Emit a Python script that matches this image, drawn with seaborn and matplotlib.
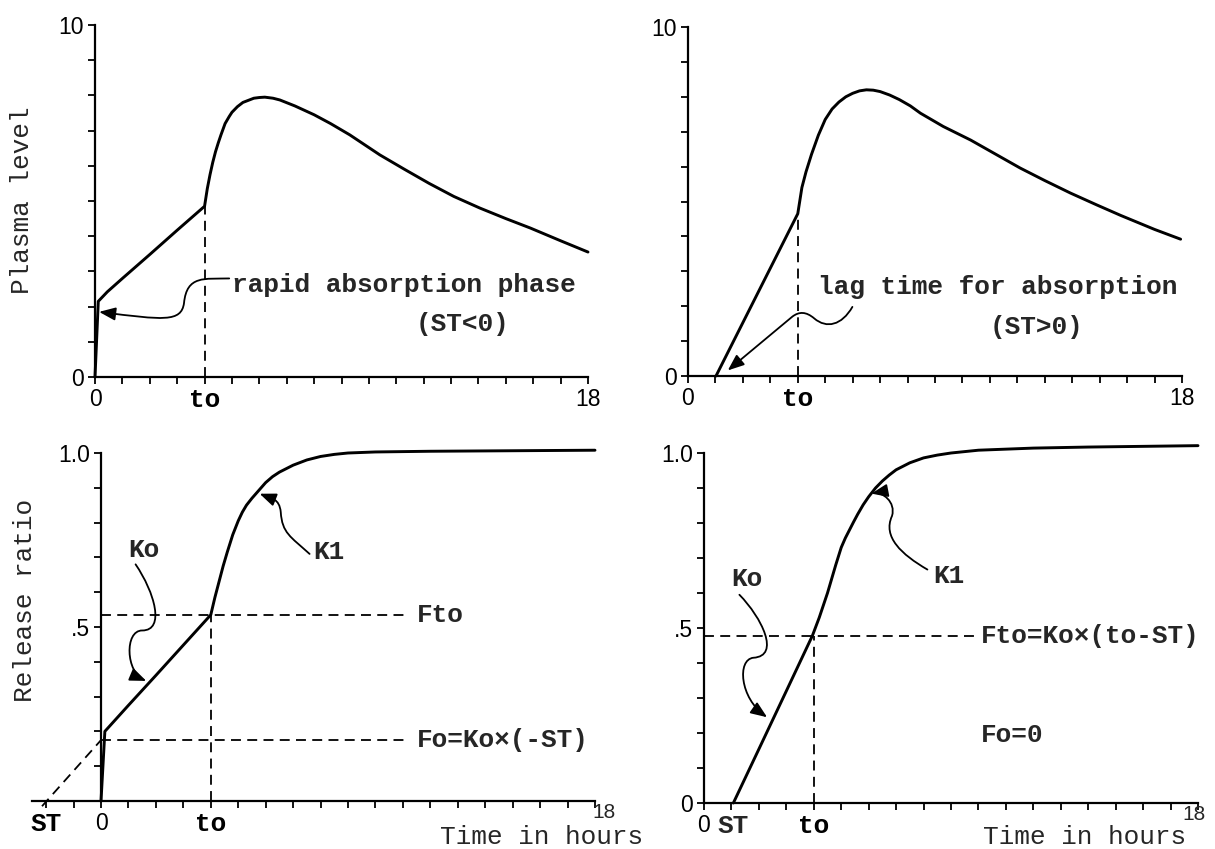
import matplotlib
matplotlib.use("Agg")
import matplotlib.pyplot as plt
import seaborn as sns
import pandas as pd
from matplotlib.path import Path
from matplotlib.patches import FancyArrowPatch
import matplotlib.transforms as mtransforms

# ---------------- data ----------------
# Panel 1: plasma level, rapid absorption phase (ST < 0)
p1_time = [0.0, 0.12, 0.45, 1.0, 2.0, 3.0, 4.0, 4.1, 4.2, 4.3, 4.4, 4.5, 4.6, 4.75, 4.9,
           5.0, 5.2, 5.4, 5.8, 6.0, 6.2, 6.5, 6.75, 7.3, 8.0, 8.6, 9.3, 10.4, 11.3, 12.2,
           13.1, 14.05, 15.0, 15.9, 17.0, 18.0]
p1_level = [0.0, 2.15, 2.42, 2.8, 3.48, 4.17, 4.85, 5.35, 5.75, 6.1, 6.4, 6.65, 6.88, 7.2, 7.4,
            7.52, 7.68, 7.8, 7.92, 7.94, 7.95, 7.92, 7.87, 7.7, 7.45, 7.2, 6.88, 6.31, 5.9, 5.5,
            5.13, 4.8, 4.5, 4.23, 3.87, 3.55]

# Panel 2: plasma level, lag time for absorption (ST > 0)
p2_time = [1.02, 2.0, 3.0, 4.0, 4.15, 4.3, 4.5, 4.75, 5.0, 5.25, 5.5, 5.75, 6.0, 6.25, 6.5,
           6.75, 7.0, 7.35, 7.7, 8.1, 8.47, 9.3, 10.3, 11.2, 12.1, 13.0, 13.94, 14.9, 15.77,
           17.0, 17.95]
p2_level = [0.0, 1.53, 3.09, 4.65, 5.4, 5.85, 6.35, 6.9, 7.35, 7.65, 7.85, 8.0, 8.1, 8.17, 8.2,
            8.19, 8.15, 8.05, 7.92, 7.74, 7.53, 7.15, 6.76, 6.36, 5.96, 5.6, 5.24, 4.9, 4.6,
            4.2, 3.92]

# Panel 3: release ratio (ST < 0)
p3_time = [0.0, 0.14, 1.0, 2.0, 3.0, 4.0, 4.15, 4.3, 4.45, 4.6, 4.8, 5.0, 5.15, 5.3, 5.5,
           5.7, 6.0, 6.25, 6.5, 7.0, 7.5, 8.0, 8.5, 9.0, 10.0, 12.0, 14.0, 16.0, 18.0]
p3_ratio = [0.0, 0.20, 0.275, 0.361, 0.448, 0.535, 0.585, 0.63, 0.675, 0.715, 0.765, 0.805,
            0.83, 0.85, 0.87, 0.888, 0.915, 0.932, 0.945, 0.965, 0.98, 0.99, 0.996, 1.0,
            1.003, 1.005, 1.006, 1.007, 1.008]

# Panel 4: release ratio (ST > 0)
p4_time = [1.07, 2.0, 3.0, 3.95, 4.2, 4.35, 4.5, 4.65, 4.8, 5.0, 5.15, 5.3, 5.45, 5.6, 5.8,
           6.0, 6.25, 6.5, 6.75, 7.0, 7.5, 8.0, 8.5, 9.0, 10.0, 12.0, 14.0, 16.0, 18.0]
p4_ratio = [0.0, 0.154, 0.320, 0.478, 0.53, 0.565, 0.60, 0.64, 0.68, 0.73, 0.757, 0.78, 0.803,
            0.825, 0.852, 0.875, 0.90, 0.92, 0.937, 0.952, 0.972, 0.986, 0.994, 1.0, 1.008,
            1.014, 1.017, 1.019, 1.021]

# reference values
TO = 4.0
P3_ST = -2.0
P3_FTO = 0.535
P3_FO = 0.175
P4_ST = 1.07
P4_FTO = 0.478

# text labels
ylab_top = "Plasma level"
ylab_bottom = "Release ratio"
xlab = "Time in hours"
note_p1 = ["rapid absorption phase", "(ST<0)"]
note_p2 = ["lag time for absorption", "(ST>0)"]

# ---------------- style ----------------
sns.set_theme(style="ticks")
MONO = ['Liberation Mono', 'DejaVu Sans Mono']
NARROW = ['Liberation Sans Narrow', 'Liberation Sans', 'DejaVu Sans']
plt.rcParams['font.family'] = MONO
TXT = 18.8
TICKFS = 16.5
ANN_W = 'bold'

fig = plt.figure(figsize=(12.15, 8.49), dpi=100)
fig.patch.set_facecolor('white')

ax1 = fig.add_axes([95/1215, 1-377/849, 493/1215, 352/849])
ax2 = fig.add_axes([688/1215, 1-376/849, 494/1215, 349/849])
ax3 = fig.add_axes([32.4/1215, 1-801/849, 562.6/1215, 348/849])
ax4 = fig.add_axes([704/1215, 1-803/849, 494/1215, 350/849])


def style_axes(ax, xmin, xmax, ymax, xticks, xlabels, yticks, ylabels):
    ax.set_xlim(xmin, xmax)
    ax.set_ylim(0, ymax)
    ax.set_facecolor('white')
    for s in ['top', 'right']:
        ax.spines[s].set_visible(False)
    ax.spines['left'].set_position(('data', 0))
    for s in ['left', 'bottom']:
        ax.spines[s].set_linewidth(1.6)
        ax.spines[s].set_color('black')
    ax.set_xticks(xticks)
    ax.set_xticklabels(xlabels)
    ax.set_yticks(yticks)
    ax.set_yticklabels(ylabels)
    ax.tick_params(direction='out', length=5, width=1.3, color='black',
                   labelcolor='black', pad=3, labelsize=TICKFS)
    for lab in ax.get_xticklabels() + ax.get_yticklabels():
        t = lab.get_text()
        if t and (t[0].isalpha()):
            lab.set_fontfamily(MONO)
            lab.set_fontsize(TXT)
            lab.set_fontweight('bold')
        else:
            lab.set_fontfamily(NARROW)


def curve(ax, xs, ys):
    df = pd.DataFrame({'t': xs, 'v': ys})
    sns.lineplot(data=df, x='t', y='v', ax=ax, color='black', lw=2.1,
                 sort=False, estimator=None)
    ax.lines[-1].set_clip_on(False)
    ax.lines[-1].set_solid_joinstyle('round')
    ax.set_xlabel('')
    ax.set_ylabel('')


def dashed(ax, xs, ys):
    ax.plot(xs, ys, color='black', lw=1.3, ls=(0, (5.5, 3.5)), clip_on=False)


def wiggle(ax, verts, codes):
    arr = FancyArrowPatch(path=Path(verts, codes), arrowstyle='-|>,head_length=0.55,head_width=0.22',
                          mutation_scale=18, lw=1.3, color='black', fc='black',
                          transform=ax.transData, clip_on=False)
    ax.add_patch(arr)


def note(ax, x, y, s):
    ax.text(x, y, s, fontsize=TXT, va='center', ha='left', fontweight=ANN_W)


C4 = Path.CURVE4

# ---- Panel 1 ----
xt = list(range(0, 19))
xl1 = ['' for _ in xt]
xl1[0], xl1[4], xl1[18] = '0', 'to', '18'
yt1 = list(range(0, 11))
yl1 = ['' for _ in yt1]
yl1[0], yl1[10] = '0', '10'
style_axes(ax1, 0, 18, 10, xt, xl1, yt1, yl1)
curve(ax1, p1_time, p1_level)
dashed(ax1, [TO, TO], [0, p1_level[p1_time.index(TO)]])
note(ax1, 5.0, 2.6, note_p1[0])
note(ax1, 11.7, 1.5, note_p1[1])
wiggle(ax1, [(4.9, 2.8), (4.0, 2.78), (3.35, 2.9), (3.25, 2.1),
             (3.15, 1.55), (2.5, 1.62), (0.15, 1.85)],
       [Path.MOVETO, C4, C4, C4, C4, C4, C4])

# ---- Panel 2 ----
style_axes(ax2, 0, 18, 10, xt, xl1, yt1, yl1)
curve(ax2, p2_time, p2_level)
dashed(ax2, [TO, TO], [0, p2_level[p2_time.index(TO)]])
note(ax2, 4.75, 2.55, note_p2[0])
note(ax2, 11.0, 1.4, note_p2[1])
wiggle(ax2, [(5.99, 1.98), (5.6, 1.45), (5.05, 1.35), (4.6, 1.65),
             (4.3, 1.85), (4.05, 1.85), (3.8, 1.7), (1.45, 0.16)],
       [Path.MOVETO, C4, C4, C4, C4, C4, C4, Path.LINETO])

# ---- Panel 3 ----
xt3 = list(range(-2, 19))
xl3 = ['' for _ in xt3]
xl3[0], xl3[2], xl3[6] = 'ST', '0', 'to'
yt = [i / 10 for i in range(0, 11)]
yl3 = ['' for _ in yt]
yl3[5], yl3[10] = '.5', '1.0'
style_axes(ax3, -2.5, 18, 1.0, xt3, xl3, yt, yl3)
curve(ax3, p3_time, p3_ratio)
dashed(ax3, [0, 11.1], [P3_FTO, P3_FTO])
dashed(ax3, [0, 11.1], [P3_FO, P3_FO])
dashed(ax3, [TO, TO], [0, P3_FTO])
dashed(ax3, [P3_ST - 0.15, 0], [-0.015, P3_FO])
note(ax3, 11.5, P3_FTO, "Fto")
note(ax3, 11.5, P3_FO, "Fo=Ko×(-ST)")
ax3.text(1.55, 0.72, "Ko", fontsize=TXT, va='center', ha='center', fontweight=ANN_W)
note(ax3, 7.75, 0.715, "K1")
wiggle(ax3, [(1.26, 0.68), (1.95, 0.6), (2.35, 0.49), (1.5, 0.49),
             (0.85, 0.49), (0.9, 0.37), (1.65, 0.345)],
       [Path.MOVETO, C4, C4, C4, C4, C4, C4])
wiggle(ax3, [(7.6, 0.71), (6.9, 0.76), (6.6, 0.77), (6.55, 0.83),
             (6.5, 0.87), (6.2, 0.87), (5.78, 0.883)],
       [Path.MOVETO, C4, C4, C4, C4, C4, C4])
tr3 = mtransforms.blended_transform_factory(ax3.transData, ax3.transAxes)
ax3.text(17.9, -0.006, '18', transform=tr3, fontsize=15, family=NARROW,
         ha='left', va='top')
fig.text(542 / 1215, 1 - 844 / 849, xlab, fontsize=TXT, ha='center', va='baseline')
fig.text(25 / 1215, 1 - 600 / 849, ylab_bottom, fontsize=TXT, rotation=90,
         ha='center', va='center')
fig.text(22 / 1215, 1 - 200 / 849, ylab_top, fontsize=TXT, rotation=90,
         ha='center', va='center')

# ---- Panel 4 ----
xl4 = ['' for _ in xt]
xl4[0], xl4[4] = '0', 'to'
yl4 = ['' for _ in yt]
yl4[0], yl4[5], yl4[10] = '0', '.5', '1.0'
style_axes(ax4, 0, 18, 1.0, xt, xl4, yt, yl4)
ax4.set_xticks([P4_ST], labels=['ST'], minor=True)
ax4.tick_params(axis='x', which='minor', length=0, pad=8)
for lab in ax4.get_xticklabels(minor=True):
    lab.set_fontfamily(MONO)
    lab.set_fontsize(TXT)
    lab.set_fontweight('bold')
curve(ax4, p4_time, p4_ratio)
dashed(ax4, [0, 9.9], [P4_FTO, P4_FTO])
dashed(ax4, [TO, TO], [0, P4_FTO])
note(ax4, 10.1, P4_FTO, "Fto=Ko×(to-ST)")
note(ax4, 10.1, 0.195, "Fo=0")
note(ax4, 1.0, 0.64, "Ko")
note(ax4, 8.35, 0.648, "K1")
wiggle(ax4, [(1.29, 0.595), (2.1, 0.53), (2.8, 0.42), (1.8, 0.415),
             (1.2, 0.41), (1.3, 0.3), (2.3, 0.245)],
       [Path.MOVETO, C4, C4, C4, C4, C4, C4])
wiggle(ax4, [(8.14, 0.667), (7.2, 0.71), (6.5, 0.76), (6.85, 0.82),
             (7.0, 0.86), (6.5, 0.89), (6.1, 0.884)],
       [Path.MOVETO, C4, C4, C4, C4, C4, C4])
tr4 = mtransforms.blended_transform_factory(ax4.transData, ax4.transAxes)
ax4.text(17.85, -0.006, '18', transform=tr4, fontsize=15, family=NARROW,
         ha='center', va='top')
fig.text(1085 / 1215, 1 - 844 / 849, xlab, fontsize=TXT, ha='center', va='baseline')

fig.savefig('out.png', dpi=100, facecolor='white')
